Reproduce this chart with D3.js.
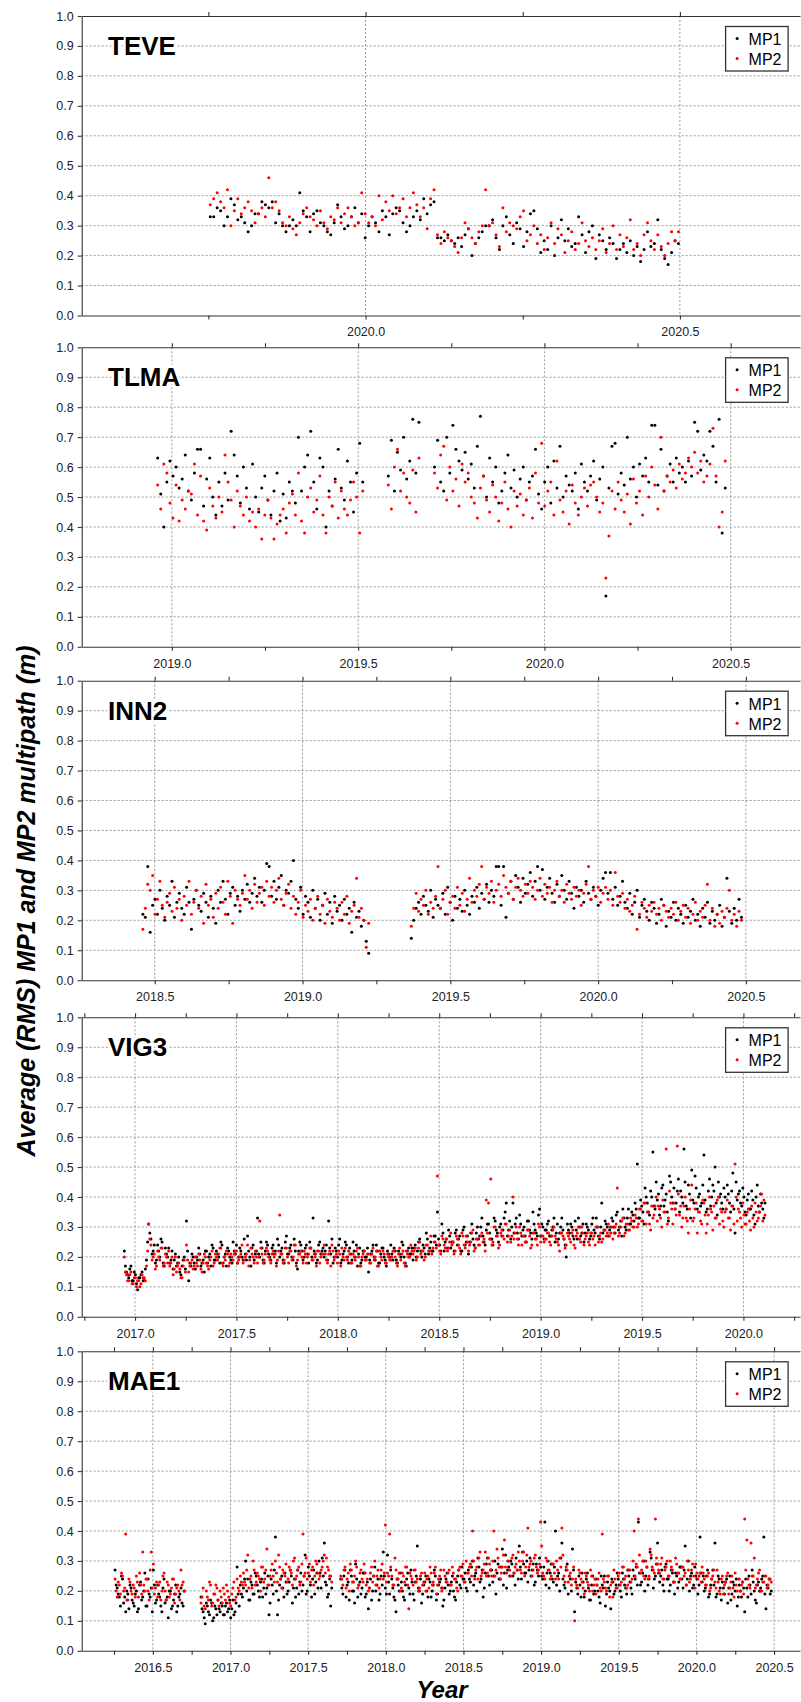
<!DOCTYPE html>
<html>
<head>
<meta charset="utf-8">
<script src="https://cdn.jsdelivr.net/npm/d3@7"></script>
<style>
  body { margin: 0; background: #fff; }
  svg { display: block; font-family: "Liberation Sans", Arial, Helvetica, sans-serif; }
  .grid line { stroke: #9a9a9a; stroke-width: 1; stroke-dasharray: 2,2; }
  .axis path, .axis line { stroke: #333; stroke-width: 1.1; }
  .axis text { font-size: 12.5px; fill: #222; }
</style>
</head>
<body>
<div id="chart"></div>
<script>
/* DATA — daily RMS multipath, values in hundredths of a metre,
   one value every `step` days from each segment start ("|" splits segments).
   The "b" strings are the readings between those days (shifted by half a step). */
const stations = ["TEVE", "TLMA", "INN2", "VIG3", "MAE1"];
const yTicks = [0, 0.1, 0.2, 0.3, 0.4, 0.5, 0.6, 0.7, 0.8, 0.9, 1.0];

const teveTicks = [2020.0, 2020.5];
const tlmaTicks = [2019.0, 2019.5, 2020.0, 2020.5];
const inn2Ticks = [2018.5, 2019.0, 2019.5, 2020.0, 2020.5];
const vig3Ticks = [2017.0, 2017.5, 2018.0, 2018.5, 2019.0, 2019.5, 2020.0];
const mae1Ticks = [2016.5, 2017.0, 2017.5, 2018.0, 2018.5, 2019.0, 2019.5, 2020.0, 2020.5];

const teveStart = [2019.753], teveStep = 2;
const teveMP1 = `
33 33 36 35 30 33 39 37 32 33
31 28 30 34 34 38 37 36 38 31
34 30 28 30 32 30 41 35 33 28
34 35 31 30 28 27 31 37 33 29
30 33 36 31 34 26 30 33 31 28
35 33 27 34 36 35 31 28 30 33
35 32 39 34 37 38 26 26 25 27
25 24 26 23 27 29 20 24 26 28
30 30 32 26 22 30 33 27 24 31
29 23 28 34 35 29 21 25 22 30
20 26 32 25 29 23 24 33 27 21
28 30 19 27 25 22 26 24 19 22
24 21 25 20 23 18 22 28 23 24
32 22 19 17 21 25 24`;
const teveMP2 = `
37 39 41 38 36 42 30 35 39 34
36 38 35 31 34 36 33 46 36 38
35 31 30 33 29 27 31 34 36 33
32 30 35 31 29 33 32 36 31 34
36 33 30 31 41 34 31 33 30 40
32 38 35 40 34 36 39 33 36 41
37 33 36 29 39 42 27 24 28 26
25 23 21 26 31 29 26 24 28 30
42 30 31 27 23 36 28 31 30 29
33 35 25 27 30 24 27 22 26 31
24 29 27 21 25 28 22 24 31 25
23 26 22 25 29 21 24 30 22 27
23 26 32 22 24 20 27 31 25 22
27 23 20 24 28 25 28`;

const tlmaStart = [2018.962, 2019.581, 2019.705], tlmaStep = 3;
const tlmaMP1 = `
63 51 40 55 62 57 60 53 56 64
52 49 58 66 66 47 56 63 50 44
55 47 58 49 72 64 57 48 60 53
46 61 50 45 53 57 49 44 52 58
42 51 43 55 52 48 70 52 60 64
72 55 46 63 60 40 52 47 56 66
53 49 62 55 45 58 68 55
|
57 69 52 65 59 70 56 62 76 58 75
|
60 69 55 52 70 58 74 66 62 59
65 56 61 53 67 77 57 50 63 55
60 48 52 58 64 53 59 50 56 60
49 55 57 66 51 46 55 60 48 62
53 67 50 57 54 52 58 46 61 55
52 57 62 49 56 60 17 53 67 68
51 58 54 70 56 60 50 61 57 63
55 74 74 54 66 52 57 61 55 63
58 60 55 62 57 75 72 59 64 62
72 67 55 76 38 53`;
const tlmaMP2 = `
54 46 61 58 48 43 54 42 49 46
52 51 61 44 57 42 39 53 47 43
50 45 64 55 49 40 52 47 44 50
42 45 40 46 36 44 49 43 36 41
44 46 38 48 51 44 58 42 38 50
53 45 49 57 44 38 50 47 55 43
52 46 44 49 55 50 38 52
|
54 46 60 66 52 58 50 48 59 45 63
|
58 53 64 67 49 60 52 56 47 61
55 58 50 48 43 53 57 49 45 54
50 42 48 55 46 40 52 47 51 44
49 53 43 58 48 68 47 52 55 44
62 49 45 52 41 54 48 44 50 53
47 54 55 50 45 48 23 37 52 46
55 49 45 51 41 56 48 52 44 57
50 60 54 46 70 52 57 55 59 53
61 56 58 63 60 65 58 62 55 57
61 73 57 40 45 62`;

const inn2Start = [2018.460, 2019.368], inn2Step = 3;
const inn2MP1 = `
22 21 38 16 25 27 22 30 24 20
28 25 33 21 26 29 24 22 31 26
17 27 30 25 23 29 26 21 28 24
19 30 26 33 27 22 29 31 25 28
23 30 27 32 26 29 34 28 31 26
30 39 38 28 33 27 31 35 25 30
29 33 40 27 24 31 22 28 26 21
30 24 27 20 25 29 22 26 19 28
23 25 20 27 22 24 16 26 21 23
18 20 13 09
|
14 20 24 26 22 28 25 23 30 21
27 25 24 29 22 31 26 20 28 24
27 23 30 25 22 28 26 31 24 29
27 32 26 30 28 38 38 25 38 21
29 33 27 35 31 26 34 29 32 36
28 33 38 30 37 27 31 34 29 26
32 28 35 30 27 33 29 24 31 28
30 26 33 29 27 31 28 25 30 34
36 29 36 27 31 25 28 33 26 24
29 22 26 30 21 25 27 23 20 26
24 19 22 27 25 18 23 21 26 20
24 22 19 25 21 23 27 20 22 18
24 21 26 19 23 20 22 25 18 21
34 23 19 24 20 27 21`;
const inn2MP2 = `
17 24 32 30 35 22 27 33 25 21
26 29 23 31 24 27 20 28 25 33
22 26 30 24 28 19 32 25 27 21
29 24 31 26 22 33 28 19 30 27
25 29 35 27 30 24 32 26 29 31
25 33 28 31 26 30 34 27 25 29
32 24 28 22 26 30 21 25 23 27
20 24 28 22 25 19 27 23 21 26
24 20 26 22 28 19 23 25 34 21
24 20 11 19
|
18 24 29 23 27 25 30 22 26 24
28 38 24 27 30 22 26 28 24 31
25 29 23 27 34 26 30 28 32 38
27 31 29 33 26 30 32 28 35 31
29 33 27 31 34 30 28 32 29 33
31 27 30 34 28 32 29 31 26 30
33 28 30 26 32 29 27 31 28 30
25 29 32 38 27 30 28 31 26 29
31 27 30 25 36 28 26 29 24 27
23 25 28 17 22 26 24 21 25 23
26 22 24 20 25 23 21 24 22 26
20 23 25 21 24 19 22 26 20 23
21 25 32 20 24 18 22 19 23 21
24 30 20 22 18 23 20`;

const vig3Start = [2016.947], vig3Step = 4;
const vig3MP1 = `
22 15 13 17 12 14 09 13 15 12
19 31 26 22 18 24 20 25 17 21
23 19 16 21 18 15 17 20 32 12
17 20 16 19 21 18 15 22 20 17
23 19 21 18 24 20 17 22 19 25
21 18 23 20 26 19 22 17 24 21
33 20 23 18 25 21 19 24 22 26
20 23 18 27 21 24 19 22 16 25
22 20 24 18 23 33 21 19 25 22
20 24 32 21 18 23 20 26 19 22
24 18 21 25 20 17 23 19 22 20
15 21 24 19 22 18 23 20 17 21
24 19 22 18 21 25 20 17 23 21
19 24 22 26 20 23 28 21 25 22
27 35 24 31 22 26 29 23 25 28
24 27 22 30 25 21 28 26 23 30
27 33 25 29 31 26 24 32 28 30
27 33 38 29 26 38 31 28 34 27
30 25 32 28 35 29 27 36 31 26
29 32 27 30 25 31 28 33 26 20
29 31 27 32 26 30 28 25 31 29
27 33 28 30 26 38 29 31 27 30
32 28 35 30 27 33 29 36 31 34
38 51 33 37 31 40 35 42 55 36
39 34 43 37 41 32 45 38 36 42
35 40 56 37 44 33 39 47 36 41
38 54 35 42 37 44 50 34 40 38
43 36 41 35 48 28 39 42 37 40
34 41 36 39 31 44 35 38 33`;
const vig3MP1b = `
17 14 16 12 15 11 13 14 12 16
25 28 21 24 19 22 26 18 23 20
18 22 19 17 20 14 19 16 22 18
21 18 20 23 17 19 22 18 21 24
19 22 20 25 18 21 23 20 18 22
24 20 22 19 21 27 20 23 19 22
21 25 19 22 24 20 23 21 18 24
22 19 25 21 23 20 26 18 22 24
19 23 21 25 20 22 18 24 21 23
22 19 23 26 20 22 24 18 21 25
20 23 19 22 24 21 18 22 20 23
19 22 20 24 18 21 23 19 22 20
21 23 19 22 20 24 18 22 21 23
23 20 25 22 24 21 26 23 22 27
24 26 22 28 25 23 27 25 22 29
26 22 29 24 27 25 31 24 28 26
30 27 24 31 28 26 33 29 25 31
29 35 27 32 30 28 33 26 31 29
27 32 29 26 31 28 34 27 30 29
31 27 29 33 28 26 30 29 24 31
28 30 26 29 33 27 31 28 30 26
31 29 33 27 30 28 32 30 29 33
30 34 29 32 36 30 33 31 35 32
36 33 39 35 43 38 34 40 37 45
41 37 44 39 35 47 40 43 38 46
42 38 45 36 41 49 38 43 40 37
44 39 36 46 40 42 38 45 41 36
40 44 38 42 36 45 41 38 43 35
39 36 42 34 40 37 41 36 38`;
const vig3MP2 = `
20 14 12 15 11 13 12 10 14 13
17 31 24 20 16 22 19 23 18 20
22 18 14 20 17 16 13 19 24 15
18 16 20 17 19 15 21 18 16 20
17 21 19 23 18 20 22 17 21 19
22 18 20 24 19 21 17 23 20 22
18 32 21 19 23 20 18 22 21 19
34 21 19 23 18 22 20 24 19 21
20 22 18 21 23 19 20 22 18 21
24 19 21 17 22 20 18 21 23 19
20 22 18 21 19 23 17 20 22 19
21 18 23 20 17 22 19 21 18 20
19 22 20 17 23 21 18 22 20 24
21 23 20 25 22 19 24 22 27 23
25 47 22 27 24 26 23 28 25 22
26 23 28 24 27 22 25 29 23 26
24 28 26 39 38 46 25 30 27 24
29 26 31 27 25 40 28 26 30 24
27 25 29 23 28 26 24 30 27 25
26 28 24 29 27 25 22 28 26 24
27 25 29 23 28 26 30 24 27 25
28 26 24 30 27 25 29 27 31 28
26 30 43 28 32 27 31 29 33 30
34 30 36 32 38 31 35 29 33 37
32 36 30 35 56 33 38 31 36 57
34 30 37 33 28 39 32 36 28 35
31 38 28 34 36 29 33 39 31 35
30 36 33 29 37 51 32 35 30 34
31 36 29 33 38 32 35 41 39`;
const vig3MP2b = `
15 12 14 11 13 10 12 11 13 12
22 26 19 21 17 20 23 17 21 18
17 20 16 15 18 13 17 15 19 17
19 17 18 21 16 18 20 17 19 22
18 20 21 23 17 19 21 18 20 21
22 19 21 18 20 24 19 21 18 20
20 23 18 21 22 19 21 20 17 22
21 18 23 20 22 19 24 17 21 22
18 21 20 23 19 21 17 22 20 21
21 18 22 24 19 21 22 17 20 23
19 21 18 20 22 20 17 21 19 21
18 21 19 22 17 20 22 18 21 19
20 22 18 21 19 22 17 21 20 22
22 19 23 21 22 20 24 22 21 25
23 24 21 26 23 22 25 24 21 27
24 21 27 23 25 24 28 22 26 24
27 25 22 28 26 24 30 27 23 28
27 31 25 29 27 26 30 24 28 27
25 29 27 24 28 26 31 25 27 26
28 25 27 30 26 24 28 27 23 28
26 28 24 27 30 25 28 26 28 24
28 27 30 25 28 26 29 28 27 30
28 31 27 30 33 28 31 29 32 30
33 31 36 32 38 35 31 37 34 40
37 33 39 35 31 42 36 38 34 41
37 33 40 32 36 44 33 38 35 32
39 34 31 40 35 37 33 40 36 32
35 39 33 37 31 40 36 33 38 31
35 32 37 30 35 33 37 32 34`;

const mae1Start = [2016.257, 2016.810, 2017.710], mae1Step = 5;
const mae1MP1 = `
27 21 18 25 16 13 19 22 17 15
20 14 23 18 26 15 19 21 27 16
22 18 13 24 17 11 20 15 19 13
18 21 15
|
18 13 09 15 12 16 11 14 17 13
15 12 16 14 11 17 13 28 15 19
21 30 24 17 22 19 25 20 23 18
26 21 12 24 19 38 12 22 25 18
23 20 27 16 24 21 19 26 22 32
20 25 18 27 23 21 26 31 36 22
19 15
|
24 19 27 22 17 25 20 29 18 23
21 26 19 14 24 20 28 22 17 25
33 21 32 19 24 18 13 22 26 20
17 24 21 27 19 23 35 20 16 22
25 18 23 20 27 17 22 24 15 21
26 19 23 20 17 25 22 28 24 21
27 23 30 25 20 28 24 18 26 31
22 27 25 19 29 24 34 26 21 28
30 25 22 27 35 24 29 26 23 31
27 22 29 25 28 24 43 26 21 29
23 40 25 20 36 22 27 19 24 34
13 21 25 18 23 20 26 17 22 19
24 20 16 22 25 19 21 14 23 20
26 22 18 24 21 27 23 19 25 28
43 22 26 20 28 24 31 21 25 36
23 27 20 29 24 22 26 19 25 23
28 21 35 24 20 26 22 25 19 38
23 20 25 18 22 27 36 19 24 17
21 23 16 25 19 22 24 18 20 23
13 21 25 19 23 17 22 20 24 38
14 21 19`;
const mae1MP1b = `
22 19 15 24 18 20 14 21 16 19
13 22 17 20 15 24 18 13 22 17
19 15 21 16 18 20 14 17 22 15
19 16 20
|
14 11 16 13 17 10 15 12 14 16
12 15 13 17 14 12 16 19 22 18
24 20 17 23 19 26 22 18 24 21
19 25 16 22 27 20 17 24 21 26
19 23 25 21 18 27 23 20 25 19
28 22 24 19 26 30 21 25 23 18
24 21
|
21 25 18 23 27 20 16 24 22 19
26 18 23 21 17 25 20 24 19 22
25 19 23 27 21 17 24 20 23 18
22 26 19 23 17 25 21 24 19 23
20 24 18 22 25 19 23 21 17 24
22 20 25 18 23 27 21 24 26 20
24 28 22 26 31 23 27 21 29 25
27 23 30 26 24 28 22 32 27 25
29 26 31 24 28 33 26 30 27 25
29 23 27 31 25 28 22 30 26 24
28 22 26 31 24 21 29 25 20 27
23 19 22 26 18 24 21 17 25 20
22 18 25 21 15 23 20 24 19 22
24 20 26 22 19 25 21 27 24 22
26 23 30 25 22 33 27 24 29 26
25 22 28 24 20 27 23 26 21 28
24 27 22 30 25 21 28 24 22 26
25 21 27 19 24 22 18 25 21 23
19 24 21 17 23 20 15 22 18 21
24 18 22 27 20 16 23 21 25 19
22 24 20`;
const mae1MP2 = `
24 18 22 26 20 39 17 23 19 21
25 18 22 33 20 24 17 33 29 21
18 23 20 26 17 22 19 24 16 21
20 27 23
|
16 21 14 18 23 15 19 22 17 20
16 19 22 18 15 21 17 24 20 23
26 22 32 24 21 27 23 25 20 28
24 34 22 27 25 30 23 28 21 26
29 24 27 22 31 25 28 23 39 26
24 29 27 22 30 26 25 28 32 31
27 25
|
25 22 28 24 20 27 23 30 21 26
24 29 22 20 26 23 30 25 21 27
24 42 26 39 25 22 27 24 20 26
23 28 14 25 22 27 24 21 26 23
20 25 28 22 26 19 24 27 21 25
23 27 22 26 24 20 28 25 23 30
26 29 40 24 28 31 25 27 33 26
29 25 40 27 31 24 28 37 26 30
25 32 28 27 30 26 33 28 41 29
25 31 28 27 43 26 24 30 27 25
29 24 27 31 41 25 28 23 26 24
10 22 27 24 21 26 23 20 25 22
19 24 21 39 23 20 25 22 18 24
21 26 23 28 25 22 27 24 40 29
44 26 30 24 28 25 32 27 44 29
26 31 24 28 25 30 27 23 29 26
24 28 26 30 23 27 25 29 24 26
28 24 22 26 21 25 23 27 20 24
19 23 26 21 25 18 22 24 20 23
44 37 22 36 25 21 24 27 20 23
25 22 24`;
const mae1MP2b = `
20 23 19 25 21 17 24 20 22 18
23 26 19 22 24 20 27 21 19 23
22 17 25 20 23 18 21 24 19 22
17 22 20
|
18 15 20 17 22 16 19 21 15 18
21 17 20 16 19 23 18 21 25 22
23 27 21 25 30 22 26 24 28 23
27 22 25 29 23 26 32 24 27 25
23 28 26 30 24 27 22 29 25 31
26 23 28 25 29 24 27 30 26 28
25 23
|
24 27 21 26 29 23 25 28 22 27
23 26 24 21 28 25 22 27 24 29
26 23 25 28 22 31 24 26 21 25
28 22 26 24 27 23 20 25 22 26
24 21 26 23 28 22 25 20 27 23
26 22 28 24 21 27 25 29 23 26
28 25 30 27 24 33 26 29 25 31
27 30 25 34 28 26 32 28 30 27
31 26 29 33 27 30 25 32 28 30
27 32 26 29 35 25 31 27 24 29
26 30 24 28 32 23 27 25 22 28
24 21 26 23 19 25 22 27 20 24
22 26 20 24 21 25 18 23 27 21
25 22 28 24 21 27 23 30 25 28
32 27 25 30 24 34 28 26 31 27
29 24 27 30 25 28 23 31 26 24
28 25 22 27 24 29 21 26 25 23
26 22 25 20 24 27 21 23 19 25
22 25 19 23 21 26 20 24 22 19
27 24 21 25 31 22 26 20 23 25
21 24 23`;

/* LAYOUT */
const width = 801, height = 1702;
const plotLeft = 81.7, plotRight = 800;
const panelTops = [16, 347.3, 680.7, 1017.3, 1351.3];
const panelH = 299.5;
const xDomains = [
  [2019.5485, 2020.691],
  [2018.758, 2020.686],
  [2018.253, 2020.683],
  [2016.737, 2020.279],
  [2016.042, 2020.667]
];
const dotR = 1.5;

function parseSeries(str, starts, step, offsetDays = 0) {
  if (!str) return [];
  return str.trim().split("|").flatMap((seg, j) =>
    seg.trim().split(/\s+/).map((v, i) => ({
      year: starts[j] + (offsetDays + i * step) / 365.25,
      value: +v / 100
    })));
}

function series(main, extra, starts, step) {
  return parseSeries(main, starts, step).concat(parseSeries(extra, starts, step, step / 2));
}

const panels = [
  { mp1: series(teveMP1, null, teveStart, teveStep), mp2: series(teveMP2, null, teveStart, teveStep), ticks: teveTicks },
  { mp1: series(tlmaMP1, null, tlmaStart, tlmaStep), mp2: series(tlmaMP2, null, tlmaStart, tlmaStep), ticks: tlmaTicks },
  { mp1: series(inn2MP1, null, inn2Start, inn2Step), mp2: series(inn2MP2, null, inn2Start, inn2Step), ticks: inn2Ticks },
  { mp1: series(vig3MP1, vig3MP1b, vig3Start, vig3Step), mp2: series(vig3MP2, vig3MP2b, vig3Start, vig3Step), ticks: vig3Ticks },
  { mp1: series(mae1MP1, mae1MP1b, mae1Start, mae1Step), mp2: series(mae1MP2, mae1MP2b, mae1Start, mae1Step), ticks: mae1Ticks }
];

const svg = d3.select("#chart").append("svg")
  .attr("width", width)
  .attr("height", height);

svg.append("rect").attr("width", width).attr("height", height).attr("fill", "#fff");

panels.forEach((p, i) => {
  const top = panelTops[i], bottom = top + panelH;
  const x = d3.scaleLinear().domain(xDomains[i]).range([plotLeft, plotRight]);
  const y = d3.scaleLinear().domain([0, 1]).range([bottom, top]);

  // minor ticks every quarter year inside the domain
  const quarters = d3.range(Math.ceil(xDomains[i][0] * 4), Math.floor(xDomains[i][1] * 4) + 1).map(q => q / 4);

  const g = svg.append("g").attr("class", "panel");

  // gridlines
  const grid = g.append("g").attr("class", "grid");
  grid.selectAll("line.h")
    .data(yTicks.filter(v => v > 0 && v < 1))
    .join("line")
      .attr("class", "h")
      .attr("x1", plotLeft).attr("x2", plotRight)
      .attr("y1", d => y(d)).attr("y2", d => y(d));
  grid.selectAll("line.v")
    .data(p.ticks)
    .join("line")
      .attr("class", "v")
      .attr("x1", d => x(d)).attr("x2", d => x(d))
      .attr("y1", top).attr("y2", bottom);

  // points
  g.append("g").selectAll("circle")
    .data(p.mp1)
    .join("circle")
      .attr("cx", d => x(d.year))
      .attr("cy", d => y(d.value))
      .attr("r", dotR)
      .attr("fill", "#000");
  g.append("g").selectAll("circle")
    .data(p.mp2)
    .join("circle")
      .attr("cx", d => x(d.year))
      .attr("cy", d => y(d.value))
      .attr("r", dotR)
      .attr("fill", "#ff0000");

  // axes
  g.append("g")
    .attr("class", "axis")
    .attr("transform", `translate(${plotLeft},0)`)
    .call(d3.axisLeft(y).tickValues(yTicks).tickFormat(d3.format(".1f")).tickSize(4).tickSizeOuter(0).tickPadding(4));

  g.append("g")
    .attr("class", "axis")
    .attr("transform", `translate(0,${bottom})`)
    .call(d3.axisBottom(x).tickValues(quarters).tickFormat(d => p.ticks.includes(d) ? d3.format(".1f")(d) : "")
      .tickSize(4).tickSizeOuter(0).tickPadding(8));

  g.append("g")
    .attr("class", "axis")
    .attr("transform", `translate(0,${top})`)
    .call(d3.axisTop(x).tickValues(quarters).tickFormat("").tickSize(4).tickSizeOuter(0));

  // station name
  g.append("text")
    .attr("x", 108)
    .attr("y", top + 39)
    .attr("font-size", 26)
    .attr("font-weight", "bold")
    .attr("fill", "#000")
    .attr("stroke", "#fff")
    .attr("stroke-width", 5)
    .attr("paint-order", "stroke")
    .text(stations[i]);

  // legend
  const lg = g.append("g").attr("transform", `translate(725.6,${top + 10.5})`);
  lg.append("rect")
    .attr("width", 62.5).attr("height", 44.5)
    .attr("fill", "#fff").attr("stroke", "#333").attr("stroke-width", 1.3);
  [["MP1", "#000"], ["MP2", "#ff0000"]].forEach(([label, color], k) => {
    lg.append("circle").attr("cx", 11.5).attr("cy", 12 + k * 20).attr("r", 1.5).attr("fill", color);
    lg.append("text").attr("x", 23).attr("y", 18.5 + k * 20).attr("font-size", 16).attr("fill", "#000").text(label);
  });
});

// axis titles
svg.append("text")
  .attr("transform", "translate(35,901) rotate(-90)")
  .attr("text-anchor", "middle")
  .attr("font-size", 25)
  .attr("font-weight", "bold")
  .attr("font-style", "italic")
  .text("Average (RMS) MP1 and MP2 multipath (m)");

svg.append("text")
  .attr("x", 442)
  .attr("y", 1698)
  .attr("text-anchor", "middle")
  .attr("font-size", 24)
  .attr("font-weight", "bold")
  .attr("font-style", "italic")
  .text("Year");
</script>
</body>
</html>
